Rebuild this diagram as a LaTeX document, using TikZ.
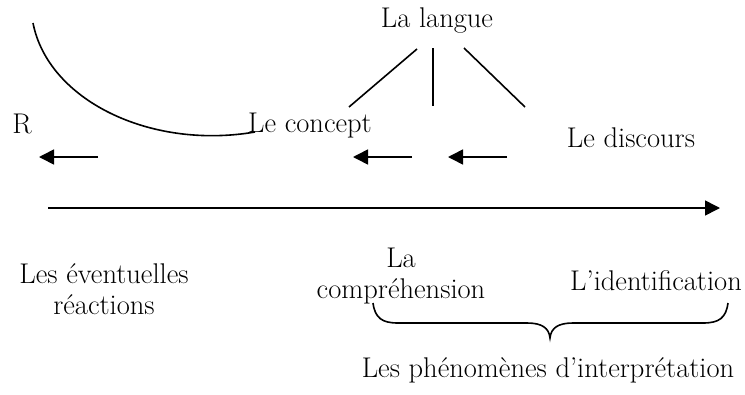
\documentclass[tikz,border=0pt]{standalone}
\usetikzlibrary{arrows.meta}
\begin{document}
\begin{tikzpicture}[x=1pt,y=-1pt,
  txt/.style={inner sep=0pt,font=\fontsize{28.5}{31}\selectfont},
  ln/.style={line width=1.6pt},
  smallarr/.style={ln,-{Triangle[length=15pt,width=15pt]}},
  bigarr/.style={ln,-{Triangle[length=15pt,width=15pt]}}]
\useasboundingbox (0,0) rectangle (745,394);
% texts
\node[txt,anchor=base] (lang) at (437,27) {La langue};
\node[txt,anchor=base] (R) at (22,133) {R};
\node[txt,anchor=base] (concept) at (310,132) {Le concept};
\node[txt,anchor=base] (discours) at (631,147) {Le discours};
\node[txt,align=center] (reac) at (104,289) {Les éventuelles\\réactions};
\node[txt,align=center] (compr) at (401,276) {La\\compréhension};
\node[txt,anchor=base] (ident) at (656,290) {L'identification};
\node[txt,anchor=base] (phen) at (548,377) {Les phénomènes d'interprétation};
% curve
\coordinate (c0) at (33,23);
\coordinate (c1) at (255,132);
\draw[ln] (c0) .. controls (48,100) and (150,150) .. (c1);
% lines from la langue
\coordinate (l1a) at (417,49); \coordinate (l1b) at (349,107);
\coordinate (l2a) at (433,48); \coordinate (l2b) at (433,106);
\coordinate (l3a) at (464,48); \coordinate (l3b) at (525,107);
\draw[ln] (l1a) -- (l1b);
\draw[ln] (l2a) -- (l2b);
\draw[ln] (l3a) -- (l3b);
% small arrows
\coordinate (a1s) at (98,157); \coordinate (a1e) at (39,157);
\coordinate (a2s) at (412,157); \coordinate (a2e) at (353,157);
\coordinate (a3s) at (507,157); \coordinate (a3e) at (448,157);
\draw[smallarr] (a1s) -- (a1e);
\draw[smallarr] (a2s) -- (a2e);
\draw[smallarr] (a3s) -- (a3e);
% big arrow
\coordinate (bs) at (48,208); \coordinate (be) at (720,208);
\draw[bigarr] (bs) -- (be);
% brace
\coordinate (bl) at (373,303); \coordinate (bt) at (550,338); \coordinate (br) at (728,303);
\draw[ln] (bl) .. controls (375,318) and (382,323) .. (398,323) -- (527,323)
  .. controls (542,323) and (549,328) .. (bt)
  .. controls (551,328) and (558,323) .. (573,323) -- (703,323)
  .. controls (719,323) and (726,318) .. (br);
\end{tikzpicture}
\end{document}
